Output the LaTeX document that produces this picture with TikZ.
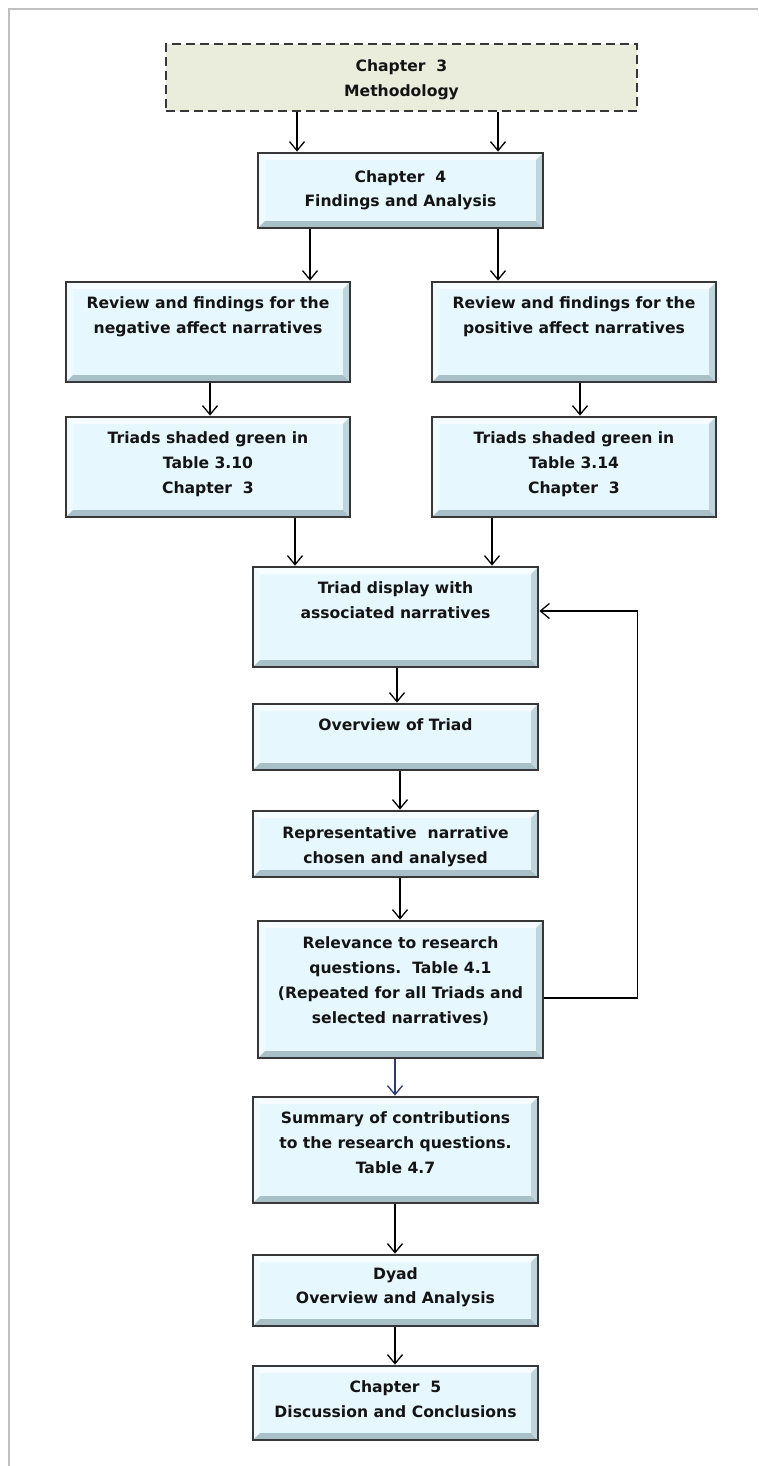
\documentclass[tikz,border=0pt]{standalone}
\usepackage{fontspec}
\setmainfont{DejaVu Sans}
\usetikzlibrary{
  arrows.meta,
  positioning
}
\definecolor{FrameGray}{RGB}{192,192,192}
\definecolor{BoxEdge}{RGB}{55,55,55}
\definecolor{BoxFill}{RGB}{230,248,254}
\definecolor{BevelLight}{RGB}{246,252,255}
\definecolor{BevelSide}{RGB}{238,250,254}
\definecolor{BevelDark}{RGB}{170,192,200}
\definecolor{BevelRight}{RGB}{192,212,220}
\definecolor{MethFill}{RGB}{234,236,220}
\definecolor{LinkNavy}{RGB}{44,58,120}
\definecolor{TextInk}{RGB}{20,20,20}
\tikzset{
  bevelbox/.style={
    draw=BoxEdge,
    line width=2.8pt,
    fill=BoxFill,
    minimum width=285pt,
    inner sep=0pt,
    path picture={
      \fill[BevelLight] (path picture bounding box.north west) -- (path picture bounding box.north east)
        -- ([xshift=-7pt,yshift=-7pt]path picture bounding box.north east)
        -- ([xshift=7pt,yshift=-7pt]path picture bounding box.north west) -- cycle;
      \fill[BevelSide] (path picture bounding box.north west) -- (path picture bounding box.south west)
        -- ([xshift=7pt,yshift=7pt]path picture bounding box.south west)
        -- ([xshift=7pt,yshift=-7pt]path picture bounding box.north west) -- cycle;
      \fill[BevelDark] (path picture bounding box.south west) -- (path picture bounding box.south east)
        -- ([xshift=-7pt,yshift=7pt]path picture bounding box.south east)
        -- ([xshift=7pt,yshift=7pt]path picture bounding box.south west) -- cycle;
      \fill[BevelRight] (path picture bounding box.north east) -- (path picture bounding box.south east)
        -- ([xshift=-7pt,yshift=7pt]path picture bounding box.south east)
        -- ([xshift=-7pt,yshift=-7pt]path picture bounding box.north east) -- cycle;
    }
  },
  methbox/.style={
    draw=BoxEdge,
    dash pattern=on 9pt off 5pt,
    line width=1.4pt,
    fill=MethFill,
    minimum width=471pt,
    minimum height=67pt
  },
  boxtext/.style={
    anchor=north,
    align=center,
    inner sep=0pt,
    yshift=-16pt,
    font=\bfseries\fontsize{15.6}{24.8}\selectfont,
    text=TextInk
  },
  arrow/.style={-{Straight Barb[length=9pt,width=15pt]},line width=1.3pt,draw=black},
  navyarrow/.style={arrow,draw=LinkNavy}
}

\begin{document}
\begin{tikzpicture}[x=1pt,y=-1pt]
  \useasboundingbox (0,0) rectangle (758,1466);
  % page frame
  \draw[FrameGray, line width=2pt] (9,1466) -- (9,9) -- (758,9);

  \node[methbox, label={[boxtext]north:{Chapter\ \ 3\\Methodology}}] (meth) at (401.5,77.5) {};
  \node[bevelbox, minimum height=75pt, label={[boxtext, yshift=-2.5pt]north:{Chapter\ \ 4\\Findings and Analysis}}] (ch4) at (400.5,190.5) {};

  \node[bevelbox, minimum width=284pt, minimum height=100pt, label={[boxtext]north:{Review and findings for the\\negative affect narratives}}] (revneg) at (208,332) {};
  \node[bevelbox, minimum width=284pt, minimum height=100pt, label={[boxtext]north:{Review and findings for the\\positive affect narratives}}] (revpos) at (574,332) {};
  \node[bevelbox, minimum width=284pt, minimum height=100pt, label={[boxtext]north:{Triads shaded green in\\Table 3.10\\Chapter\ \ 3}}] (trineg) at (208,467) {};
  \node[bevelbox, minimum width=284pt, minimum height=100pt, label={[boxtext]north:{Triads shaded green in\\Table 3.14\\Chapter\ \ 3}}] (tripos) at (574,467) {};

  \node[bevelbox, minimum height=100pt, label={[boxtext]north:{Triad display with\\associated narratives}}] (display) at (395.5,617) {};
  \node[bevelbox, minimum height=66pt, label={[boxtext]north:{Overview of Triad}}] (overview) at (395.5,737) {};
  \node[bevelbox, minimum height=66pt, label={[boxtext, yshift=-1pt]north:{Representative\ \ narrative\\chosen and analysed}}] (repres) at (395.5,844) {};
  \node[bevelbox, minimum height=137pt, label={[boxtext, yshift=-1pt]north:{Relevance to research\\questions.\ \ Table 4.1\\(Repeated for all Triads and\\selected narratives)}}] (relev) at (400.5,989.5) {};
  \node[bevelbox, minimum height=106pt, label={[boxtext]north:{Summary of contributions\\to the research questions.\\Table 4.7}}] (summary) at (395.5,1150) {};
  \node[bevelbox, minimum height=71pt, label={[boxtext, yshift=2.5pt]north:{Dyad\\Overview and Analysis}}] (dyad) at (395.5,1290.5) {};
  \node[bevelbox, minimum height=74pt, label={[boxtext]north:{Chapter\ \ 5\\Discussion and Conclusions}}] (ch5) at (395.5,1403) {};

  \draw[arrow] ([xshift=-104.5pt]meth.south) -- ([xshift=-104.5pt]meth.south |- ch4.north);
  \draw[arrow] ([xshift=96.5pt]meth.south) -- ([xshift=96.5pt]meth.south |- ch4.north);
  \draw[arrow] ([xshift=-90.5pt]ch4.south) -- ([xshift=-90.5pt]ch4.south |- revneg.north);
  \draw[arrow] ([xshift=97.5pt]ch4.south) -- ([xshift=97.5pt]ch4.south |- revpos.north);
  \draw[arrow] ([xshift=2pt]revneg.south) -- ([xshift=2pt]revneg.south |- trineg.north);
  \draw[arrow] ([xshift=6pt]revpos.south) -- ([xshift=6pt]revpos.south |- tripos.north);
  \draw[arrow] ([xshift=87pt]trineg.south) -- ([xshift=87pt]trineg.south |- display.north);
  \draw[arrow] ([xshift=-82pt]tripos.south) -- ([xshift=-82pt]tripos.south |- display.north);
  \draw[arrow] ([xshift=1.5pt]display.south) -- ([xshift=1.5pt]display.south |- overview.north);
  \draw[arrow] ([xshift=4.5pt]overview.south) -- ([xshift=4.5pt]overview.south |- repres.north);
  \draw[arrow] ([xshift=4.5pt]repres.south) -- ([xshift=4.5pt]repres.south |- relev.north);
  \draw[navyarrow] ([xshift=-5.5pt]relev.south) -- ([xshift=-5.5pt]relev.south |- summary.north);
  \draw[arrow] ([xshift=-0.5pt]summary.south) -- ([xshift=-0.5pt]summary.south |- dyad.north);
  \draw[arrow] ([xshift=-0.5pt]dyad.south) -- ([xshift=-0.5pt]dyad.south |- ch5.north);

  % loop back for every Triad
  \draw[arrow] ([yshift=-8.5pt]relev.east) -- ++(93,0) |- ([yshift=6pt]display.east);
\end{tikzpicture}
\end{document}
